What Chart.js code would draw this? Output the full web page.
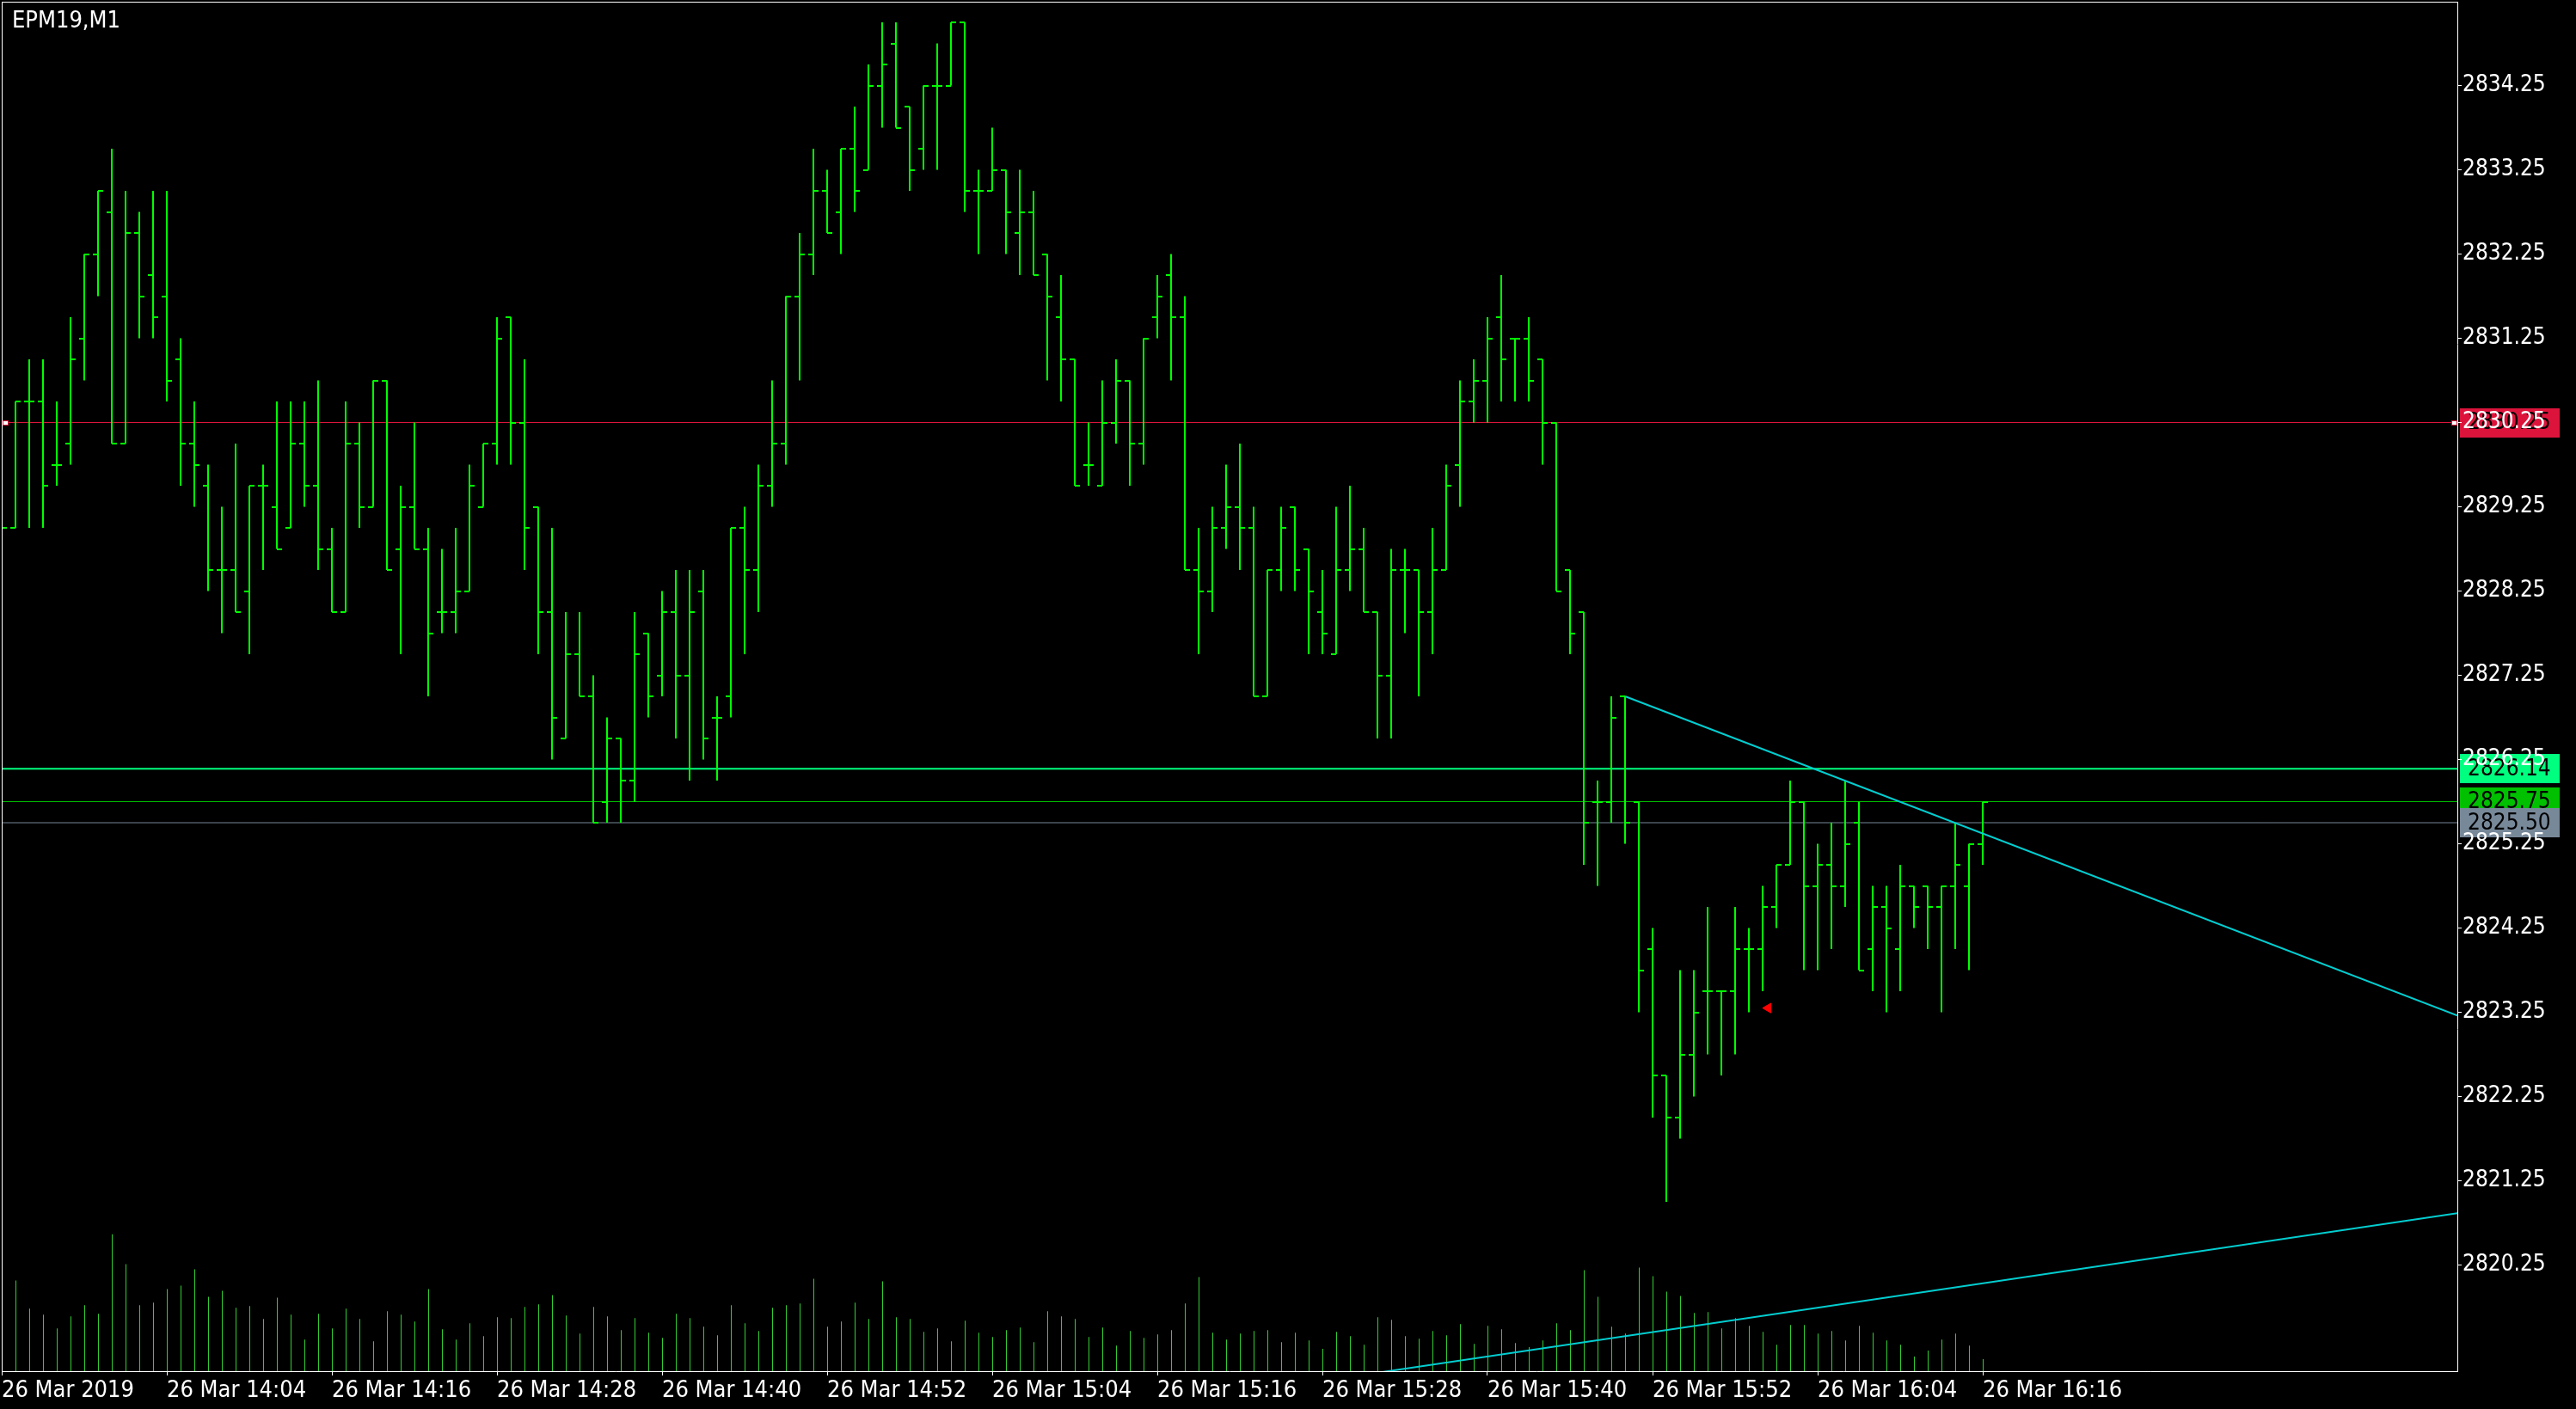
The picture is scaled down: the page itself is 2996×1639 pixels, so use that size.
<!DOCTYPE html>
<html>
<head>
<meta charset="utf-8">
<script src="https://cdn.jsdelivr.net/npm/chart.js@4.4.1/dist/chart.umd.min.js"></script>
<style>
  html, body { margin: 0; padding: 0; background: #000; }
  canvas { display: block; }
</style>
</head>
<body>
<canvas id="chart" width="2996" height="1639" style="width:2996px;height:1639px"></canvas>
<script>
// EPM19, M1 bars from 26 Mar 13:52 to 16:16 (145 bars)
const symbolLabel = 'EPM19,M1';

const opens = [
  2829.25, 2829.00, 2830.50, 2830.50, 2829.75, 2830.00, 2831.25, 2832.25, 2832.75, 2830.00,
  2832.50, 2832.00, 2831.75, 2831.00, 2830.00, 2829.50, 2828.50, 2828.50, 2828.25, 2829.50,
  2829.25, 2829.00, 2830.00, 2829.50, 2828.75, 2828.00, 2830.00, 2829.25, 2830.75, 2828.75,
  2829.25, 2828.75, 2828.00, 2828.00, 2828.25, 2829.25, 2830.00, 2831.50, 2830.25, 2829.25,
  2828.00, 2826.50, 2827.50, 2827.00, 2825.75, 2826.50, 2826.00, 2827.75, 2827.25, 2828.00,
  2827.25, 2828.25, 2826.75, 2827.00, 2829.00, 2828.50, 2829.50, 2830.00, 2831.75, 2832.25,
  2833.00, 2832.75, 2833.50, 2833.25, 2834.25, 2834.75, 2834.00, 2833.50, 2834.25, 2834.25,
  2835.00, 2833.00, 2833.00, 2833.25, 2832.50, 2832.75, 2832.25, 2831.50, 2831.00, 2829.75,
  2829.50, 2830.25, 2830.75, 2830.00, 2831.50, 2832.00, 2831.50, 2828.50, 2828.25, 2829.00,
  2829.25, 2829.00, 2827.00, 2828.50, 2829.25, 2828.75, 2828.00, 2827.50, 2828.50, 2828.75,
  2828.00, 2827.25, 2828.50, 2828.50, 2828.00, 2828.50, 2829.75, 2830.50, 2830.75, 2831.50,
  2831.25, 2831.25, 2831.00, 2830.25, 2828.50, 2828.00, 2825.75, 2825.75, 2827.00, 2825.75,
  2824.00, 2822.50, 2822.00, 2822.75, 2823.50, 2823.50, 2823.50, 2824.00, 2824.00, 2824.50,
  2825.00, 2825.75, 2824.75, 2825.00, 2824.75, 2825.50, 2824.00, 2824.50, 2824.00, 2824.75,
  2824.75, 2824.50, 2824.75, 2824.75, 2825.25
];
const highs = [
  2829.50, 2830.50, 2831.00, 2831.00, 2830.50, 2831.50, 2832.25, 2833.00, 2833.50, 2833.00,
  2832.75, 2833.00, 2833.00, 2831.25, 2830.50, 2829.75, 2829.25, 2830.00, 2829.50, 2829.75,
  2830.50, 2830.50, 2830.50, 2830.75, 2829.00, 2830.50, 2830.25, 2830.75, 2830.75, 2829.50,
  2830.25, 2829.00, 2828.75, 2829.00, 2829.75, 2830.00, 2831.50, 2831.50, 2831.00, 2829.25,
  2829.00, 2828.00, 2828.00, 2827.25, 2826.75, 2826.50, 2828.00, 2827.75, 2828.25, 2828.50,
  2828.50, 2828.50, 2827.00, 2829.00, 2829.25, 2829.75, 2830.75, 2831.75, 2832.50, 2833.50,
  2833.25, 2833.50, 2834.00, 2834.50, 2835.00, 2835.00, 2834.00, 2834.25, 2834.75, 2835.00,
  2835.00, 2833.25, 2833.75, 2833.25, 2833.25, 2833.00, 2832.25, 2832.00, 2831.00, 2830.25,
  2830.75, 2831.00, 2830.75, 2831.25, 2832.00, 2832.25, 2831.75, 2829.00, 2829.25, 2829.75,
  2830.00, 2829.25, 2828.50, 2829.25, 2829.25, 2828.75, 2828.50, 2829.25, 2829.50, 2829.00,
  2828.00, 2828.75, 2828.75, 2828.50, 2829.00, 2829.75, 2830.75, 2831.00, 2831.50, 2832.00,
  2831.25, 2831.50, 2831.00, 2830.25, 2828.50, 2828.00, 2826.00, 2827.00, 2827.00, 2825.75,
  2824.25, 2822.50, 2823.75, 2823.75, 2824.50, 2823.50, 2824.50, 2824.25, 2824.75, 2825.00,
  2826.00, 2825.75, 2825.25, 2825.50, 2826.00, 2825.75, 2824.75, 2824.75, 2825.00, 2824.75,
  2824.75, 2824.75, 2825.50, 2825.25, 2825.75
];
const lows = [
  2828.75, 2829.00, 2829.00, 2829.00, 2829.50, 2829.75, 2830.75, 2831.75, 2830.00, 2830.00,
  2831.25, 2831.25, 2830.50, 2829.50, 2829.25, 2828.25, 2827.75, 2828.00, 2827.50, 2828.50,
  2828.75, 2829.00, 2829.25, 2828.50, 2828.00, 2828.00, 2829.00, 2829.25, 2828.50, 2827.50,
  2828.75, 2827.00, 2827.75, 2827.75, 2828.25, 2829.25, 2829.75, 2829.75, 2828.50, 2827.50,
  2826.25, 2826.50, 2827.00, 2825.50, 2825.50, 2825.50, 2825.75, 2826.75, 2827.00, 2826.50,
  2826.00, 2826.25, 2826.00, 2826.75, 2827.50, 2828.00, 2829.25, 2829.75, 2830.75, 2832.00,
  2832.50, 2832.25, 2832.75, 2833.25, 2833.75, 2833.75, 2833.00, 2833.25, 2833.25, 2834.25,
  2832.75, 2832.25, 2833.00, 2832.25, 2832.00, 2832.00, 2830.75, 2830.50, 2829.50, 2829.50,
  2829.50, 2830.00, 2829.50, 2829.75, 2831.25, 2830.75, 2828.50, 2827.50, 2828.00, 2828.75,
  2828.50, 2827.00, 2827.00, 2828.25, 2828.25, 2827.50, 2827.50, 2827.50, 2828.25, 2828.00,
  2826.50, 2826.50, 2827.75, 2827.00, 2827.50, 2828.50, 2829.25, 2830.25, 2830.25, 2830.50,
  2830.50, 2830.50, 2829.75, 2828.25, 2827.50, 2825.00, 2824.75, 2825.50, 2825.25, 2823.25,
  2822.00, 2821.00, 2821.75, 2822.25, 2822.75, 2822.50, 2822.75, 2823.25, 2823.50, 2824.25,
  2825.00, 2823.75, 2823.75, 2824.00, 2824.50, 2823.75, 2823.50, 2823.25, 2823.50, 2824.25,
  2824.00, 2823.25, 2824.00, 2823.75, 2825.00
];
const closes = [
  2829.00, 2830.50, 2830.50, 2829.50, 2829.75, 2831.00, 2832.25, 2833.00, 2830.00, 2832.50,
  2831.75, 2831.50, 2830.75, 2830.00, 2829.75, 2828.50, 2828.50, 2828.00, 2829.50, 2829.50,
  2828.75, 2830.00, 2829.50, 2828.75, 2828.00, 2830.00, 2829.25, 2830.75, 2828.50, 2829.25,
  2828.75, 2827.75, 2828.00, 2828.25, 2829.50, 2830.00, 2831.25, 2830.25, 2829.00, 2828.00,
  2826.75, 2827.50, 2827.00, 2825.50, 2826.50, 2826.00, 2827.50, 2827.00, 2828.00, 2827.25,
  2828.00, 2826.50, 2826.75, 2829.00, 2828.50, 2829.50, 2830.00, 2831.75, 2832.25, 2833.00,
  2832.50, 2833.50, 2833.00, 2834.25, 2834.50, 2833.75, 2833.25, 2834.25, 2834.25, 2835.00,
  2833.00, 2833.00, 2833.25, 2832.75, 2832.75, 2832.00, 2831.75, 2831.00, 2829.50, 2829.75,
  2830.25, 2830.75, 2830.00, 2831.25, 2831.75, 2831.50, 2828.50, 2828.25, 2829.00, 2829.25,
  2829.00, 2827.00, 2828.50, 2829.00, 2828.50, 2828.25, 2827.75, 2828.50, 2828.75, 2828.00,
  2827.25, 2828.50, 2828.50, 2828.00, 2828.50, 2829.50, 2830.50, 2830.75, 2831.25, 2831.00,
  2831.25, 2830.75, 2830.25, 2828.25, 2827.75, 2825.50, 2825.75, 2826.75, 2825.50, 2823.75,
  2822.50, 2822.00, 2822.75, 2823.25, 2823.50, 2823.50, 2824.00, 2824.00, 2824.50, 2825.00,
  2825.75, 2824.75, 2825.00, 2824.75, 2825.25, 2823.75, 2824.50, 2824.25, 2824.75, 2824.50,
  2824.50, 2824.75, 2825.00, 2825.25, 2825.75
];
// tick volumes (arbitrary units)
const volumes = [
  60, 106, 73, 66, 50, 64, 77, 67, 160, 125,
  77, 80, 96, 100, 119, 87, 94, 74, 76, 61,
  86, 66, 37, 67, 50, 73, 61, 35, 70, 66,
  58, 96, 49, 37, 56, 41, 63, 62, 75, 78,
  89, 65, 44, 75, 64, 48, 62, 45, 39, 67,
  62, 52, 42, 77, 56, 47, 74, 77, 79, 108,
  52, 58, 80, 61, 105, 63, 61, 46, 50, 35,
  59, 45, 40, 48, 51, 34, 70, 64, 61, 40,
  51, 30, 47, 39, 43, 48, 79, 110, 45, 37,
  44, 47, 48, 34, 45, 36, 26, 46, 41, 31,
  63, 60, 41, 38, 47, 42, 55, 32, 53, 49,
  33, 28, 36, 56, 48, 118, 87, 52, 44, 121,
  111, 93, 88, 68, 69, 50, 62, 53, 46, 31,
  54, 54, 44, 47, 36, 53, 45, 36, 31, 17,
  24, 37, 44, 30, 14
];

const timeTickBars = [0, 12, 24, 36, 48, 60, 72, 84, 96, 108, 120, 132, 144];
const timeLabels = [
  '26 Mar 2019', '26 Mar 14:04', '26 Mar 14:16', '26 Mar 14:28', '26 Mar 14:40',
  '26 Mar 14:52', '26 Mar 15:04', '26 Mar 15:16', '26 Mar 15:28', '26 Mar 15:40',
  '26 Mar 15:52', '26 Mar 16:04', '26 Mar 16:16'
];
const priceTicks = [
  2820.25, 2821.25, 2822.25, 2823.25, 2824.25, 2825.25, 2826.25, 2827.25,
  2828.25, 2829.25, 2830.25, 2831.25, 2832.25, 2833.25, 2834.25
];

// horizontal line objects
const hLinePrices = [2830.25, 2826.14, 2825.75, 2825.50];
const hLineColors = ['#DC143C', '#00FF7F', '#00C000', '#778899'];
const hLineWidths = [1, 2, 1, 1];

// trend lines (bar index, price)
const trendUpperX = [118, 178.5];
const trendUpperY = [2827.00, 2823.21];
const trendLowerX = [90, 178.5];
const trendLowerY = [2818.73, 2820.865];

// red arrow
const arrowX = [128.4];
const arrowY = [2823.30];

// ---- style / layout ----
const fontFamily = "'DejaVu Sans Condensed', 'Liberation Sans', Arial, sans-serif";
const barColor = '#00FF00';
const volColor = '#32CD32';
const trendColor = '#00CED1';
const xMin = 0, xMax = 178.5;          // 34.5 bars of right shift
const yMin = 2818.99, yMax = 2835.245;
const volAxisMax = 1600;
const volShift = 0.5 / 16;             // half a pixel, keeps 1px volume lines crisp

Chart.defaults.font.family = fontFamily;
Chart.defaults.font.size = 26;
Chart.defaults.color = '#ffffff';

const barIdx = opens.map((_, i) => i);

function tickImage(side) {
  const c = document.createElement('canvas');
  c.width = 12;
  c.height = 2;
  const g = c.getContext('2d');
  g.fillStyle = barColor;
  g.fillRect(side === 'open' ? 0 : 6, 0, 6, 2);
  return c;
}

const datasets = [
  {
    type: 'line', label: 'Arrow', order: -2,
    data: arrowX.map((x, i) => ({ x: x, y: arrowY[i] })),
    showLine: false, pointStyle: 'triangle', rotation: 270, pointRadius: 6.5,
    pointBackgroundColor: '#FF0000', pointBorderColor: '#FF0000', pointBorderWidth: 1
  },
  {
    type: 'line', label: 'Trend 1', order: -1,
    data: trendUpperX.map((x, i) => ({ x: x, y: trendUpperY[i] })),
    borderColor: trendColor, borderWidth: 2, pointRadius: 0, clip: 0
  },
  {
    type: 'line', label: 'Trend 2', order: -1,
    data: trendLowerX.map((x, i) => ({ x: x, y: trendLowerY[i] })),
    borderColor: trendColor, borderWidth: 2, pointRadius: 0, clip: 0
  },
  {
    type: 'line', label: 'Open', order: 0,
    data: barIdx.map(i => ({ x: i, y: opens[i] })),
    showLine: false, pointStyle: tickImage('open'), pointRadius: 3
  },
  {
    type: 'line', label: 'Close', order: 0,
    data: barIdx.map(i => ({ x: i, y: closes[i] })),
    showLine: false, pointStyle: tickImage('close'), pointRadius: 3
  },
  {
    type: 'bar', label: 'Range', order: 1,
    data: barIdx.map(i => ({ x: i, y: [lows[i], highs[i]] })),
    backgroundColor: barColor, barThickness: 2, maxBarThickness: 2,
    grouped: false, inflateAmount: 0, borderWidth: 0
  },
  {
    type: 'bar', label: 'Volume', order: 6, xAxisID: 'xv', yAxisID: 'yv',
    data: barIdx.map(i => ({ x: i, y: volumes[i] })),
    backgroundColor: volColor, barThickness: 1, maxBarThickness: 1,
    grouped: false, inflateAmount: 0, borderWidth: 0
  }
];

hLinePrices.forEach((p, k) => {
  datasets.push({
    type: 'line', label: 'HLine ' + p, order: 5,
    data: [{ x: xMin, y: p }, { x: xMax, y: p }],
    borderColor: hLineColors[k], borderWidth: hLineWidths[k], pointRadius: 0
  });
});

const boxTexts = ['2830.25', '2826.14', '2825.75', '2825.50'];
const boxOrder = [1, 0, 2, 3];

const mt4Plugin = {
  id: 'mt4',
  beforeDraw(chart) {
    const ctx = chart.ctx;
    const area = chart.chartArea;
    const y = chart.scales.y;
    ctx.save();
    ctx.fillStyle = '#000';
    ctx.fillRect(0, 0, chart.width, chart.height);
    // price labels on the right axis
    ctx.font = '26px ' + fontFamily;
    ctx.textBaseline = 'middle';
    ctx.textAlign = 'left';
    boxOrder.forEach(k => {
      const py = y.getPixelForValue(hLinePrices[k]);
      ctx.fillStyle = hLineColors[k];
      ctx.fillRect(area.right + 3, Math.round(py - 17), 116, 34);
      ctx.fillStyle = '#000';
      ctx.fillText(boxTexts[k], area.right + 12, py + 1);
    });
    ctx.restore();
  },
  afterDraw(chart) {
    const ctx = chart.ctx;
    const area = chart.chartArea;
    const y = chart.scales.y;
    ctx.save();
    // frame
    ctx.fillStyle = '#fff';
    ctx.fillRect(area.left, area.top, 1, area.bottom - area.top);
    ctx.fillRect(area.left, area.top, area.right - area.left, 1);
    // selection marks of the horizontal line
    const py = Math.round(y.getPixelForValue(hLinePrices[0]) - 3);
    ctx.fillStyle = '#fff';
    ctx.strokeStyle = hLineColors[0];
    ctx.lineWidth = 1;
    [area.left + 1, area.right - 7].forEach(px => {
      ctx.fillRect(px, py, 7, 6);
      ctx.strokeRect(px + 0.5, py + 0.5, 6, 5);
    });
    // symbol caption
    ctx.fillStyle = '#fff';
    ctx.font = '27px ' + fontFamily;
    ctx.textBaseline = 'alphabetic';
    ctx.textAlign = 'left';
    ctx.fillText(symbolLabel, 14, 32);
    ctx.restore();
  }
};

new Chart(document.getElementById('chart'), {
  type: 'bar',
  data: { datasets: datasets },
  options: {
    responsive: false,
    devicePixelRatio: 1,
    animation: false,
    events: [],
    layout: { autoPadding: false, padding: { left: 2, top: 2, right: 0, bottom: 0 } },
    plugins: { legend: { display: false }, tooltip: { enabled: false } },
    scales: {
      x: {
        type: 'linear', position: 'bottom', min: xMin, max: xMax, offset: false,
        grid: { drawOnChartArea: false, drawTicks: true, tickLength: 5, color: '#fff', offset: false },
        border: { display: true, color: '#fff', width: 1 },
        ticks: {
          align: 'start', padding: 2, autoSkip: false, maxRotation: 0, minRotation: 0,
          color: '#fff', font: { size: 27 },
          callback: (v, i) => timeLabels[i]
        },
        afterBuildTicks: s => { s.ticks = timeTickBars.map(v => ({ value: v })); },
        afterFit: s => { s.height = 44; s.paddingLeft = 0; s.paddingRight = 0; }
      },
      xv: { type: 'linear', display: false, min: xMin - volShift, max: xMax - volShift, offset: false },
      y: {
        type: 'linear', position: 'right', min: yMin, max: yMax, beginAtZero: false,
        grid: { drawOnChartArea: false, drawTicks: true, tickLength: 5, color: '#fff' },
        border: { display: true, color: '#fff', width: 1 },
        ticks: { padding: 1, color: '#fff', font: { size: 26 }, callback: v => v.toFixed(2) },
        afterBuildTicks: s => { s.ticks = priceTicks.map(v => ({ value: v })); },
        afterFit: s => { s.width = 138; s.paddingTop = 0; s.paddingBottom = 0; }
      },
      yv: { type: 'linear', display: false, min: 0, max: volAxisMax }
    }
  },
  plugins: [mt4Plugin]
});
</script>
</body>
</html>
